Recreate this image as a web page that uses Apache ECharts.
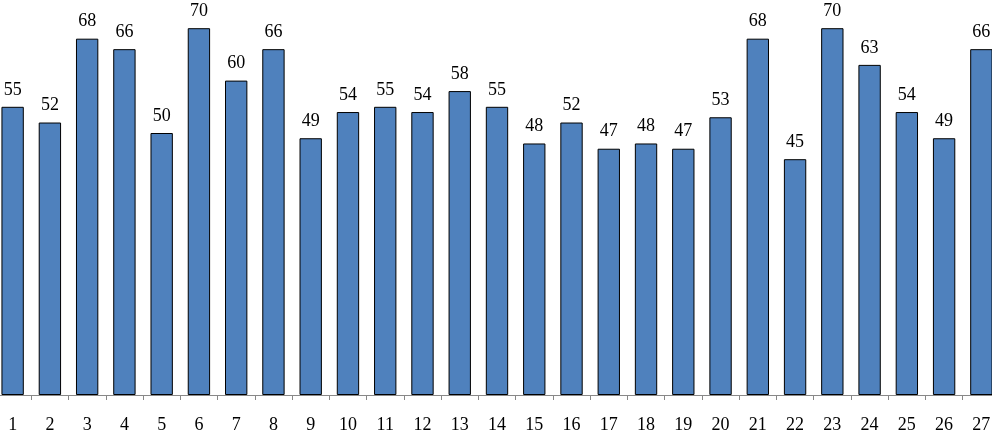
<!DOCTYPE html>
<html>
<head>
<meta charset="utf-8">
<script src="https://cdn.jsdelivr.net/npm/echarts@6/dist/echarts.min.js"></script>
<style>html,body{margin:0;padding:0;background:#fff;overflow:hidden}#c{width:1006px;height:434px;margin-left:-6px}</style>
</head>
<body>
<div id="c"></div>
<script>
const categories = ['1','2','3','4','5','6','7','8','9','10','11','12','13','14','15','16','17','18','19','20','21','22','23','24','25','26','27'];
const values = [55,52,68,66,50,70,60,66,49,54,55,54,58,55,48,52,47,48,47,53,68,45,70,63,54,49,66];

const chart = echarts.init(document.getElementById('c'), null, {renderer: 'canvas'});
chart.setOption({
  animation: false,
  grid: {left: 0, right: 0, top: 2, bottom: 35, containLabel: false},
  xAxis: {
    type: 'category',
    data: categories,
    axisLine: {lineStyle: {color: '#888888', width: 1}},
    axisTick: {show: true, length: 5, lineStyle: {color: '#888888'}},
    axisLabel: {color: '#000', fontFamily: 'Liberation Serif', fontSize: 18, margin: 21, interval: 0}
  },
  yAxis: {
    type: 'value', min: 0, max: 75, show: false,
    splitLine: {show: false}
  },
  series: [{
    type: 'bar',
    data: values,
    barWidth: '60%',
    itemStyle: {color: '#4F81BD', borderColor: '#000', borderWidth: 1},
    label: {show: true, position: 'top', distance: 8, color: '#000', fontFamily: 'Liberation Serif', fontSize: 18}
  }]
});
</script>
</body>
</html>
